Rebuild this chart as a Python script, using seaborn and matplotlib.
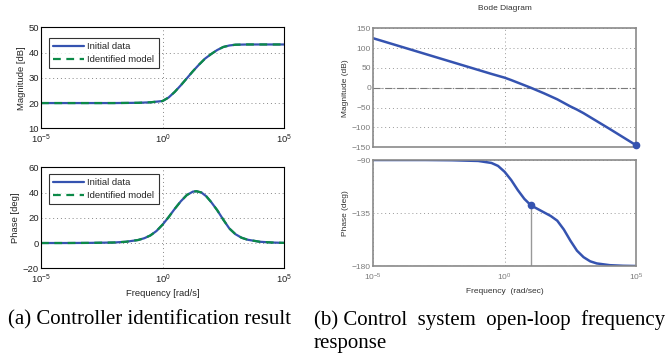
import numpy as np
import pandas as pd
import seaborn as sns
import matplotlib
matplotlib.use("Agg")
import matplotlib.pyplot as plt

# ---- data (frequency in rad/s) ----
# (a) controller identification
freq_a_mag = [1e-5, 1e-2, 1e-1, 10**-0.5, 1, 10**0.25, 10**0.5, 10**0.75, 10, 10**1.25,
              10**1.5, 10**1.75, 100, 10**2.25, 10**2.5, 10**2.75, 1e3, 10**3.5, 1e4, 1e5]
mag_a = [20, 20, 20.1, 20.3, 20.8, 22.2, 24.4, 27, 29.8, 32.6,
         35.2, 37.6, 39.4, 41, 42.2, 42.8, 43.1, 43.2, 43.2, 43.2]

freq_a_ph = [1e-5, 1e-4, 1e-3, 1e-2, 10**-1.5, 0.1, 10**-0.75, 10**-0.5, 10**-0.25, 1,
             10**0.25, 10**0.5, 10**0.75, 10, 10**1.25, 10**1.4, 10**1.6, 10**1.8, 100,
             10**2.25, 10**2.5, 10**2.75, 1e3, 10**3.25, 10**3.5, 1e4, 10**4.5, 1e5]
phase_a = [0, 0, 0.1, 0.4, 1.0, 2.4, 3.8, 6, 9.5, 14.5,
           20.5, 27, 33, 38, 40.7, 41, 40, 37, 32.5,
           26, 18.5, 11.5, 7, 4.2, 2.6, 1, 0.4, 0.1]

# (b) open-loop bode
freq_b_mag = [1e-5, 1e-3, 0.1, 10**-0.5, 1, 10**0.25, 10**0.5, 10**0.75, 10, 10**1.5,
              100, 10**2.5, 10**2.75, 1e3, 10**3.5, 1e4, 10**4.5, 1e5]
mag_b = [125, 85, 45, 35, 25.5, 19.5, 13, 6.5, 0, -14,
         -29, -47, -55, -64, -84, -104, -124.5, -145]

freq_b_ph = [1e-5, 1e-3, 1e-2, 0.1, 10**-0.5, 10**-0.25, 1, 10**0.25, 10**0.5, 10**0.75,
             10, 10**1.25, 10**1.5, 10**1.75, 100, 10**2.25, 10**2.5, 10**2.75, 1e3,
             10**3.25, 10**3.5, 1e4, 10**4.5, 1e5]
phase_b = [-90, -90, -90.2, -90.8, -92.5, -95, -100, -107, -115.5, -123,
           -128.5, -131.5, -134.5, -137.5, -141.5, -149, -158.5, -167, -172.5,
           -176, -177.8, -179.3, -179.8, -180]

w_c, pm_phase = 10.0, -128.5      # gain crossover / phase margin point
w_end, mag_end = 1e5, -145.0

xt = [1e-5, 1, 1e5]

sns.set_style("white")
plt.rcParams['font.family'] = ['Liberation Sans', 'DejaVu Sans']
plt.rcParams['xtick.direction'] = 'in'
plt.rcParams['ytick.direction'] = 'in'

blue = '#3553b0'
green = '#0c8a48'
gcol = '#7a7a7a'

fig = plt.figure(figsize=(6.68, 3.64), dpi=100)

# ---------------- (a) ----------------
def style_left(ax, ylim, yt):
    ax.set_xscale('log')
    ax.set_xlim(1e-5, 1e5)
    ax.set_ylim(*ylim)
    ax.set_xticks(xt)
    ax.set_yticks(yt)
    ax.minorticks_off()
    ax.tick_params(labelsize=6.8, length=2, width=0.6, pad=1.5, colors='#222222')
    ax.tick_params(axis='x', pad=3)
    ax.grid(True, which='major', ls=(0, (1, 3)), color='#888888', lw=0.7)
    for s in ax.spines.values():
        s.set_color('black')
        s.set_linewidth(0.8)

def add_legend(ax, ytop):
    leg = ax.legend(loc='upper left', bbox_to_anchor=(0.033, ytop), borderaxespad=0,
                    fontsize=6.8, frameon=True, fancybox=False, edgecolor='black',
                    handlelength=3.2, borderpad=0.45, labelspacing=0.4, handletextpad=0.4)
    leg.get_frame().set_linewidth(0.8)

ax1 = fig.add_axes([0.0614, 0.6475, 0.3638, 0.2775])
sns.lineplot(x=freq_a_mag, y=mag_a, ax=ax1, color=blue, lw=1.6, label='Initial data')
sns.lineplot(x=freq_a_mag, y=mag_a, ax=ax1, color=green, lw=1.6, ls=(0, (3.5, 2.5)),
             label='Identified model')
style_left(ax1, (10, 50), [10, 20, 30, 40, 50])
ax1.set_ylabel('Magnitude [dB]', fontsize=6.8, labelpad=2)
ax1.set_xlabel('')
add_legend(ax1, 0.894)

ax2 = fig.add_axes([0.0614, 0.263, 0.3638, 0.2775])
sns.lineplot(x=freq_a_ph, y=phase_a, ax=ax2, color=blue, lw=1.6, label='Initial data')
sns.lineplot(x=freq_a_ph, y=phase_a, ax=ax2, color=green, lw=1.6, ls=(0, (3.5, 2.5)),
             label='Identified model')
style_left(ax2, (-20, 60), [-20, 0, 20, 40, 60])
ax2.set_ylabel('Phase [deg]', fontsize=6.8, labelpad=2)
ax2.set_xlabel('Frequency [rad/s]', fontsize=6.8, labelpad=2)
add_legend(ax2, 0.934)

# ---------------- (b) ----------------
def style_right(ax, ylim, yt):
    ax.set_xscale('log')
    ax.set_xlim(1e-5, 1e5)
    ax.set_ylim(*ylim)
    ax.set_xticks(xt)
    ax.set_yticks(yt)
    ax.minorticks_off()
    ax.tick_params(labelsize=6, length=2, width=0.6, pad=1.5, colors=gcol)
    ax.tick_params(axis='x', pad=4)
    ax.grid(True, which='major', ls=(0, (1, 3)), color='#999999', lw=0.7)
    for s in ax.spines.values():
        s.set_color('#8a8a8a')
        s.set_linewidth(1.2)

ax3 = fig.add_axes([0.5584, 0.5953, 0.394, 0.327])
style_right(ax3, (-150, 150), [-150, -100, -50, 0, 50, 100, 150])
ax3.axhline(0, color=gcol, lw=0.8, ls='-.')
sns.lineplot(x=freq_b_mag, y=mag_b, ax=ax3, color=blue, lw=1.8)
ax3.plot([w_end], [mag_end], 'o', color=blue, ms=4.5, clip_on=False, zorder=5)
ax3.set_xticklabels([])
ax3.set_ylabel('Magnitude (dB)', fontsize=6, color='#333333', labelpad=2)
ax3.set_title('Bode Diagram', fontsize=6, color='#333333', pad=13)

ax4 = fig.add_axes([0.5584, 0.2692, 0.394, 0.2912])
style_right(ax4, (-180, -90), [-180, -135, -90])
ax4.axhline(-180, color=gcol, lw=0.9, ls='-.')
ax4.vlines(w_c, -180, pm_phase, color='#999999', lw=1.0)
sns.lineplot(x=freq_b_ph, y=phase_b, ax=ax4, color=blue, lw=1.8)
ax4.plot([w_c], [pm_phase], 'o', color=blue, ms=4.5, zorder=5)
ax4.set_ylabel('Phase (deg)', fontsize=6, color='#333333', labelpad=2)
ax4.set_xlabel('Frequency  (rad/sec)', fontsize=6, color='#333333', labelpad=4)

# ---------------- captions ----------------
cap = dict(fontsize=15, family=['Liberation Serif', 'DejaVu Serif'], color='black',
           va='baseline')
fig.text(0.012, 0.108, '(a) Controller identification result', **cap)
fig.text(0.470, 0.108, '(b) Control  system  open-loop  frequency', **cap)
fig.text(0.470, 0.045, 'response', **cap)

fig.savefig('out.png', dpi=100)
